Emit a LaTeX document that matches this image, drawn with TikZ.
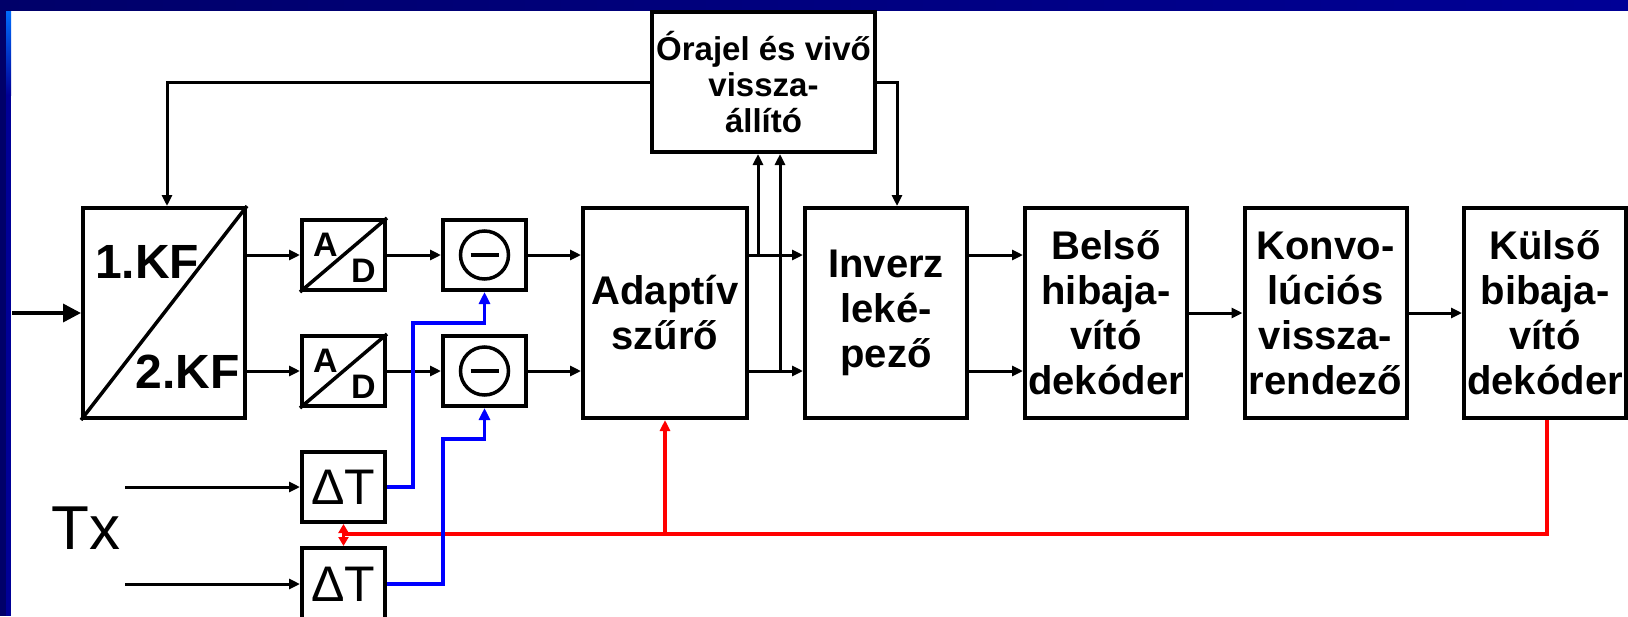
\documentclass[tikz,border=0pt]{standalone}
\usepackage{fontspec}
\setmainfont{Liberation Sans}
\usetikzlibrary{arrows.meta, positioning}

\definecolor{navydark}{RGB}{0,0,105}
\definecolor{navymid}{RGB}{0,0,150}
\definecolor{barlight}{RGB}{0,110,255}

\begin{document}
\begin{tikzpicture}[x=1pt, y=-1pt,
    box/.style={draw, line width=4pt, inner sep=0pt, align=center,
        font=\bfseries\fontsize{40}{45}\selectfont,
        minimum width=162pt, minimum height=210pt},
    smallbox/.style={draw, line width=4pt, inner sep=0pt,
        minimum width=83pt, minimum height=70pt},
    sig/.style={line width=3pt, -{Triangle[length=11pt, width=10pt]}},
    ctl/.style={blue, line width=3.5pt, -{Triangle[length=12pt, width=11pt]}},
    fb/.style={red, line width=3.5pt},
    lbl/.style={inner sep=0pt, font=\bfseries\fontsize{34}{34}\selectfont}]

    \useasboundingbox (0,0) rectangle (1628,616);

    % Draw slide frame
    \fill[navydark] (0,0) rectangle (11,616);
    \shade[top color=barlight, bottom color=navymid] (6,10) rectangle (11,95);
    \fill[navymid] (6,95) rectangle (11,616);
    \shade[left color=navydark, right color=navymid] (0,0) rectangle (1628,10);

    % Draw filter block
    \node[box, minimum width=162pt] (kf) at (164,313) {};
    \draw[line width=3.5pt] (kf.south west) -- (kf.north east);
    \node[lbl, anchor=base west, font=\bfseries\fontsize{48}{48}\selectfont] (kf1) at (95,278) {1.KF};
    \node[lbl, anchor=base east, font=\bfseries\fontsize{48}{48}\selectfont] (kf2) at (240,388) {2.KF};

    % Draw A/D converters
    \node[smallbox] (ad1) at (343.5,255) {};
    \node[smallbox] (ad2) at (343.5,371) {};
    \draw[line width=3.5pt] (ad1.south west) -- (ad1.north east);
    \draw[line width=3.5pt] (ad2.south west) -- (ad2.north east);
    \node[lbl, anchor=base west] (a1) at (313,256) {A};
    \node[lbl, anchor=base west] (d1) at (351,282) {D};
    \node[lbl, anchor=base west] (a2) at (313,372) {A};
    \node[lbl, anchor=base west] (d2) at (351,398) {D};

    % Draw subtractors
    \node[smallbox] (mn1) at (484.5,255) {};
    \node[smallbox] (mn2) at (484.5,371) {};
    \draw[line width=3.5pt] (mn1) circle (24pt);
    \draw[line width=4pt] (mn1) ++(-14pt,0pt) -- ++(28pt,0pt);
    \draw[line width=3.5pt] (mn2) circle (24pt);
    \draw[line width=4pt] (mn2) ++(-14pt,0pt) -- ++(28pt,0pt);

    % Draw delay blocks
    \node[smallbox, font=\fontsize{50}{50}\selectfont] (dt1) at (343.5,487) {ΔT};
    \node[smallbox, minimum height=72pt, font=\fontsize{50}{50}\selectfont] (dt2) at (343.5,584) {ΔT};
    \node[inner sep=0pt, font=\fontsize{62}{62}\selectfont] (tx) at (86,528) {Tx};

    % Draw main chain
    \node[box, minimum width=164pt] (adapt) at (665,313) {Adaptív\\szűrő};
    \node[box] (inv) at (886,313) {Inverz\\leké-\\pező};
    \node[box] (belso) at (1106,313) {Belső\\hibaja-\\vító\\dekóder};
    \node[box] (konvo) at (1325.5,313) {Konvo-\\lúciós\\vissza-\\rendező};
    \node[box] (kulso) at (1545,313) {Külső\\bibaja-\\vító\\dekóder};
    \node[box, font=\bfseries\fontsize{33}{36}\selectfont,
        minimum width=223pt, minimum height=140pt] (ora) at (763.5,82) {Órajel és vivő\\vissza-\\állító};

    % Draw connections
    \coordinate (in) at (12,313);
    \draw[line width=3.5pt, -{Triangle[length=18pt, width=18pt]}] (in) -- (kf);
    \draw[sig] (kf.east |- ad1) -- (ad1);
    \draw[sig] (kf.east |- ad2) -- (ad2);
    \draw[sig] (ad1) -- (mn1);
    \draw[sig] (ad2) -- (mn2);
    \draw[sig] (mn1) -- (mn1 -| adapt.west);
    \draw[sig] (mn2) -- (mn2 -| adapt.west);
    \draw[sig] (adapt.east |- mn1) -- (inv.west |- mn1);
    \draw[sig] (adapt.east |- mn2) -- (inv.west |- mn2);
    \coordinate (up1) at (758,255);
    \coordinate (up2) at (780,371);
    \draw[sig] (up1) -- (up1 |- ora.south);
    \draw[sig] (up2) -- (up2 |- ora.south);
    \draw[sig] (ora.west) -| ([xshift=3pt]kf.north);
    \draw[sig] (ora.east) -| ([xshift=11pt]inv.north);
    \draw[sig] (inv.east |- mn1) -- (belso.west |- mn1);
    \draw[sig] (inv.east |- mn2) -- (belso.west |- mn2);
    \draw[sig] (belso) -- (konvo);
    \draw[sig] (konvo) -- (kulso);
    \coordinate (tx1) at (125,487);
    \coordinate (tx2) at (125,584);
    \draw[sig] (tx1) -- (dt1);
    \draw[sig] (tx2) -- (dt2);

    % Draw feedback from outer decoder
    \coordinate (rl) at (343.5,534);
    \draw[fb] ([xshift=2pt]kulso.south) |- (rl);
    \draw[fb, -{Triangle[length=11pt, width=10pt]}] (adapt.south |- rl) -- (adapt.south);
    \draw[fb, {Triangle[length=9pt, width=10pt]}-{Triangle[length=9pt, width=10pt]}] (dt1.south) -- (dt2.north);

    % Draw delayed reference paths
    \coordinate (b1) at (413,323);
    \coordinate (b2) at (443,439);
    \draw[ctl] (dt1.east) -| (b1) -| (mn1.south);
    \draw[ctl] (dt2.east) -| (b2) -| (mn2.south);

\end{tikzpicture}
\end{document}
